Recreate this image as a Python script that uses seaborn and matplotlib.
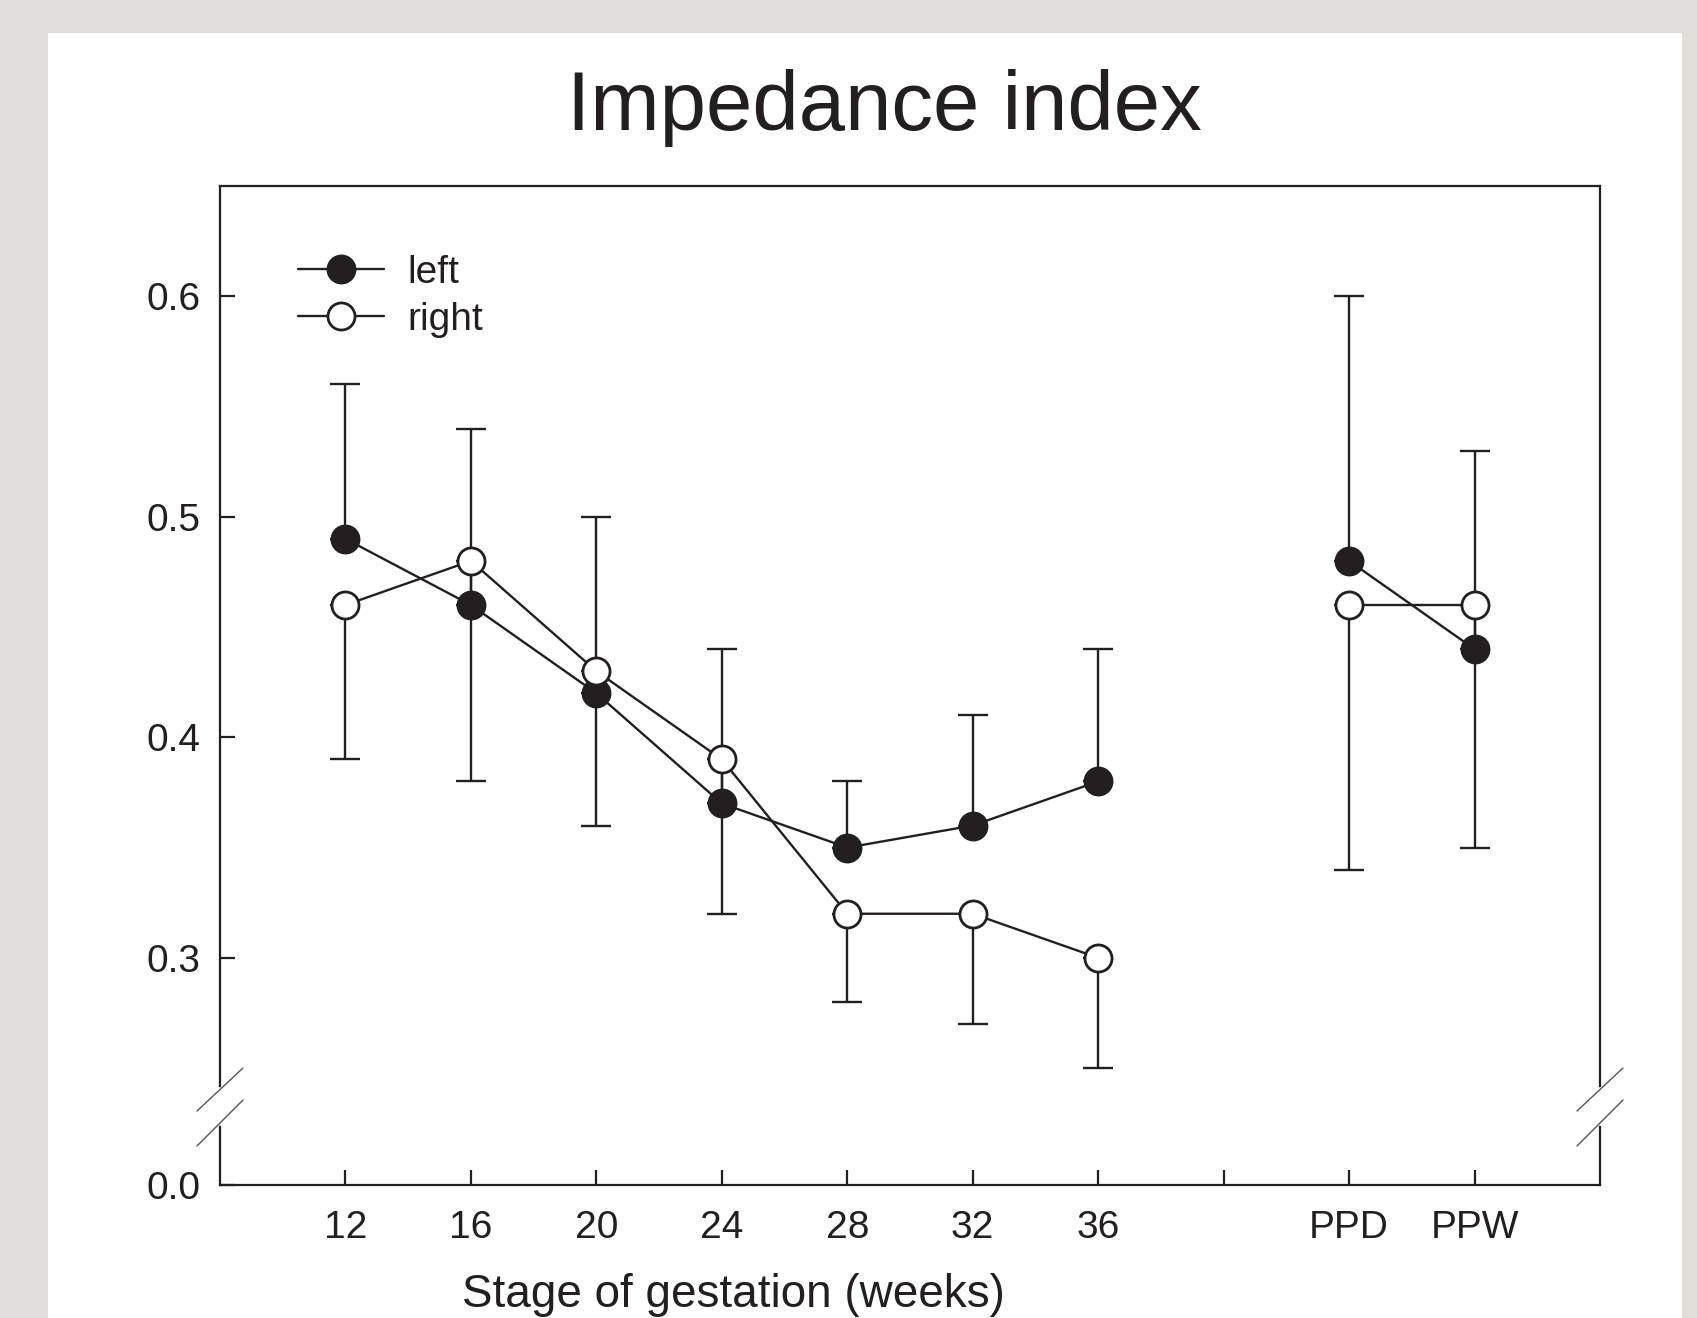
import numpy as np
import pandas as pd
import matplotlib
matplotlib.use("Agg")
import matplotlib.pyplot as plt
from matplotlib.patches import Rectangle
from matplotlib.lines import Line2D
import seaborn as sns

# ---- data ----
categories = ["12", "16", "20", "24", "28", "32", "36", "", "PPD", "PPW"]
positions = [0, 1, 2, 3, 4, 5, 6, 8, 9]          # slots carrying data (slot 7 is empty)
segments = [0, 0, 0, 0, 0, 0, 0, 1, 1]           # gestation vs. post-partum
left_values = [0.49, 0.46, 0.42, 0.37, 0.35, 0.36, 0.38, 0.48, 0.44]
right_values = [0.46, 0.48, 0.43, 0.39, 0.32, 0.32, 0.30, 0.46, 0.46]
left_upper_end = [0.56, 0.54, 0.50, 0.44, 0.38, 0.41, 0.44, 0.60, 0.53]
right_lower_end = [0.39, 0.38, 0.36, 0.32, 0.28, 0.27, 0.25, 0.34, 0.35]
ytick_values = [0.3, 0.4, 0.5, 0.6]
ytick_labels = ["0.3", "0.4", "0.5", "0.6"]
y_zero_label = "0.0"

INK = "#231f20"

sns.set_style("ticks")
plt.rcParams["font.family"] = ["Liberation Sans", "DejaVu Sans"]
plt.rcParams["text.color"] = INK

fig = plt.figure(figsize=(16.97, 13.18), dpi=100)
fig.patch.set_facecolor("#e0ded8")
panel = Rectangle((48 / 1697, 0), (1682 - 48) / 1697, (1318 - 33) / 1318,
                  transform=fig.transFigure, facecolor="white",
                  edgecolor="none", zorder=-10)
fig.add_artist(panel)

ax = fig.add_axes([220 / 1697, (1318 - 1185) / 1318, 1380 / 1697, 999 / 1318])
ax.set_zorder(1)
ax.set_facecolor("white")

df = pd.DataFrame({
    "pos": positions * 2,
    "value": left_values + right_values,
    "side": ["left"] * len(positions) + ["right"] * len(positions),
    "segment": segments * 2,
})

LW = 1.7
MS = 19.5
MEW = 2.0

# error bars (left upward, right downward)
lv = np.array(left_values)
rv = np.array(right_values)
ax.errorbar(positions, lv, yerr=[np.zeros_like(lv), np.array(left_upper_end) - lv],
            fmt="none", ecolor=INK, elinewidth=LW, capsize=11, capthick=LW, zorder=2)
ax.errorbar(positions, rv, yerr=[rv - np.array(right_lower_end), np.zeros_like(rv)],
            fmt="none", ecolor=INK, elinewidth=LW, capsize=11, capthick=LW, zorder=2)

for side, face in [("left", INK), ("right", "white")]:
    sns.lineplot(data=df[df["side"] == side], x="pos", y="value", units="segment",
                 estimator=None, color=INK, marker="o", markersize=MS,
                 markerfacecolor=face, markeredgecolor=INK, markeredgewidth=MEW,
                 linewidth=LW, ax=ax, legend=False, zorder=3)

for line in ax.lines:
    line.set_clip_on(False)

# axes / ticks
y0 = 0.197
ax.set_xlim(-1, 10)
ax.set_ylim(y0, 0.65)
ax.set_xticks(range(len(categories)))
ax.set_xticklabels(categories)
ax.set_yticks([y0] + ytick_values)
ax.set_yticklabels([y_zero_label] + ytick_labels)
ax.tick_params(direction="in", length=11, width=1.6, color=INK, labelcolor=INK,
               labelsize=28)
ax.tick_params(axis="x", pad=18)
ax.tick_params(axis="y", pad=14)
ax.set_xlabel("")
ax.set_ylabel("")
for sp in ax.spines.values():
    sp.set_visible(True)
    sp.set_color(INK)
    sp.set_linewidth(1.6)

# axis break marks on both vertical spines
gap_lo, gap_hi = (1185 - 1122) / 999, (1185 - 1090) / 999
for xs in (0.0, 1.0):
    ax.plot([xs, xs], [gap_lo, gap_hi], transform=ax.transAxes, color="white",
            linewidth=5, clip_on=False, zorder=5)
    dx = 23 / 1380
    for (ya, yb) in [((1185 - 1111) / 999, (1185 - 1068) / 999),
                     ((1185 - 1146) / 999, (1185 - 1100) / 999)]:
        ax.plot([xs - dx, xs + dx], [ya, yb], transform=ax.transAxes,
                color="#555555", linewidth=1.0, clip_on=False, zorder=6)

# legend
handles = [
    Line2D([], [], color=INK, marker="o", markersize=MS, markerfacecolor=INK,
           markeredgecolor=INK, markeredgewidth=MEW, linewidth=LW),
    Line2D([], [], color=INK, marker="o", markersize=MS, markerfacecolor="white",
           markeredgecolor=INK, markeredgewidth=MEW, linewidth=LW),
]
ax.legend(handles, ["left", "right"], loc="upper left",
          bbox_to_anchor=((298 - 220) / 1380, (1185 - 255) / 999),
          frameon=False, fontsize=28, handlelength=2.2, handletextpad=0.6,
          labelspacing=0.28, borderpad=0, borderaxespad=0)

fig.text(884 / 1697, (1318 - 130) / 1318, "Impedance index", ha="center",
         va="baseline", fontsize=60, color=INK)
fig.text(733 / 1697, (1318 - 1307) / 1318, "Stage of gestation (weeks)",
         ha="center", va="baseline", fontsize=33, color=INK)

fig.savefig("out.png", dpi=100, facecolor=fig.get_facecolor())
